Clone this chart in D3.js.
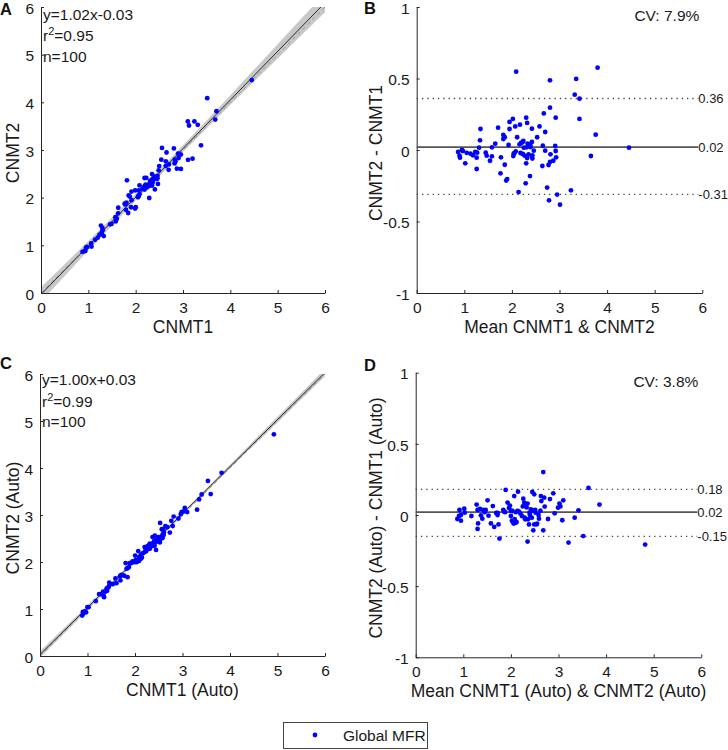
<!DOCTYPE html>
<html><head><meta charset="utf-8">
<script src="https://cdnjs.cloudflare.com/ajax/libs/d3/7.8.5/d3.min.js"></script>
<style>
body{margin:0;background:#fff;}
svg{display:block;font-family:"Liberation Sans",Arial,Helvetica,sans-serif;}
</style></head>
<body><svg id="chart" width="728" height="750"></svg>
<script>
// ---------- DATA ----------
// Panel B: Bland-Altman, manual: mean of CNMT1 & CNMT2, difference CNMT2-CNMT1
const meanB = [0.87,0.90,0.91,0.95,0.97,1.02,1.05,1.13,1.18,1.23,1.26,1.26,1.27,1.31,1.33,1.34,1.45,1.47,1.54,1.58,
  1.58,1.65,1.71,1.76,1.77,1.82,1.82,1.85,1.85,1.88,1.90,1.93,1.95,1.95,2.02,2.03,2.04,2.07,2.09,2.08,
  2.11,2.14,2.16,2.17,2.18,2.22,2.23,2.25,2.27,2.29,2.30,2.31,2.32,2.30,2.32,2.35,2.36,2.38,2.39,2.42,
  2.42,2.43,2.43,2.46,2.53,2.58,2.64,2.65,2.67,2.70,2.70,2.74,2.77,2.78,2.80,2.80,2.80,2.81,2.87,2.91,
  2.92,2.92,2.93,2.95,3.01,3.24,3.32,3.35,3.42,3.42,3.66,3.76,3.80,4.46,2.05,2.19,2.33,2.39,2.42,2.24];
const diffB = [-0.014,-0.04,-0.054,0.00,-0.007,-0.093,-0.02,-0.026,-0.037,-0.014,-0.054,-0.133,-0.019,0.016,0.068,0.147,-0.019,-0.04,-0.075,0.019,
  -0.044,0.044,0.156,-0.163,-0.051,0.105,0.077,0.089,-0.103,-0.214,-0.203,0.035,0.196,0.147,0.217,-0.042,-0.023,0.165,0.548,-0.009,
  0.089,-0.294,0.04,0.177,-0.021,0.054,-0.028,0.016,-0.04,-0.233,0.226,0.019,0.189,-0.093,-0.056,-0.03,0.04,-0.182,0.028,0.149,
  0.056,-0.037,-0.06,-0.005,0.089,0.165,-0.112,0.03,0.256,0.126,-0.005,-0.263,-0.105,-0.352,-0.084,0.487,0.296,-0.03,-0.075,0.028,
  -0.007,0.226,-0.051,-0.312,-0.382,-0.282,0.387,0.497,0.359,0.217,-0.042,0.107,0.576,0.016,-0.025,0.049,0.045,0.021,-0.049,0.063];
// Panel D: Bland-Altman, automatic
const meanD = [0.875,0.91,0.92,0.95,1.02,1.03,1.17,1.28,1.30,1.31,1.30,1.35,1.37,1.40,1.42,1.47,1.51,1.53,1.58,1.62,
  1.65,1.69,1.72,1.74,1.76,1.84,1.86,1.89,1.93,1.96,1.98,2.00,2.02,2.03,2.05,2.07,2.08,2.10,2.14,2.15,
  2.17,2.23,2.26,2.28,2.29,2.31,2.33,2.35,2.36,2.38,2.39,2.42,2.44,2.45,2.47,2.49,2.49,2.51,2.52,2.54,
  2.59,2.63,2.64,2.68,2.68,2.70,2.71,2.78,2.82,2.89,2.92,2.99,3.02,3.10,3.08,3.21,3.34,3.42,3.52,3.63,
  3.86,4.82,2.00,2.06,2.12,2.20,2.25,2.30,2.40,2.46,2.55,2.58,1.45,1.72,1.88,2.10,2.35,2.62,3.04,0.95];
const diffD = [-0.028,-0.007,0.035,-0.04,0.044,0.016,-0.007,0.073,0.035,-0.059,-0.098,0.042,-0.002,-0.026,0.035,0.035,0.103,-0.005,-0.059,0.063,
  -0.084,0.014,0.014,-0.066,-0.166,0.035,0.023,0.176,0.087,0.049,0.066,-0.007,-0.04,0.028,-0.054,0.133,-0.03,-0.054,0.028,0.164,
  0.023,-0.007,0.115,0.087,-0.019,0.07,0.054,-0.187,-0.03,-0.066,0.016,0.04,-0.019,0.162,-0.108,0.145,-0.066,0.035,0.016,-0.066,
  -0.026,0.133,0.098,0.302,-0.108,0.122,0.059,-0.028,0.112,0.152,0.012,0.052,0.08,0.103,-0.037,-0.194,-0.019,0.033,-0.148,0.19,
  0.073,-0.208,0.03,-0.06,-0.05,0.01,0.06,-0.03,0.00,0.03,-0.06,0.00,0.02,0.00,0.02,0.02,0.08,0.03,0.06,0.00];

// Regression fits and agreement statistics printed on the figure
const fitA = {slope:1.02, icpt:-0.03, r2:"0.95", n:100, label:"y=1.02x-0.03"};
const fitC = {slope:1.00, icpt:0.03, r2:"0.99", n:100, label:"y=1.00x+0.03"};
const ciX = [0,1,2,3,4,5,6];
const ciHalfA = [0.15,0.10,0.07,0.07,0.10,0.15,0.20];
const ciHalfC = [0.07,0.05,0.03,0.03,0.04,0.06,0.08];
const limitsB = [0.36,0.02,-0.31];
const limitsD = [0.18,0.02,-0.15];
const cvB = "CV: 7.9%", cvD = "CV: 3.8%";
const scatterTicks = [0,1,2,3,4,5,6];
const baYTicks = [-1,-0.5,0,0.5,1];

// Scatter panels are the same measurement pairs: CNMT1 = mean - diff/2, CNMT2 = mean + diff/2
const ptsB = meanB.map((m,i)=>({x:m,y:diffB[i]}));
const ptsD = meanD.map((m,i)=>({x:m,y:diffD[i]}));
const ptsA = meanB.map((m,i)=>({x:m-diffB[i]/2,y:m+diffB[i]/2}));
const ptsC = meanD.map((m,i)=>({x:m-diffD[i]/2,y:m+diffD[i]/2}));

// ---------- DRAWING ----------
const svg = d3.select("#chart");
const defs = svg.append("defs");
const AX = "#262626";
const TXT = "#1a1a1a";
const fmt = d => String(d);

function panel(id, xr, yr, ydom, yticks, letter, letterPos, xTitle, yTitle, yTitleX){
  const x = d3.scaleLinear().domain([0,6]).range(xr);
  const y = d3.scaleLinear().domain(ydom).range(yr);
  const g = svg.append("g");
  defs.append("clipPath").attr("id","clip"+id).append("rect")
    .attr("x",xr[0]).attr("y",yr[1]).attr("width",xr[1]-xr[0]).attr("height",yr[0]-yr[1]);
  const body = g.append("g").attr("clip-path","url(#clip"+id+")");
  const xa = g.append("g").attr("transform",`translate(0,${yr[0]})`)
    .call(d3.axisBottom(x).tickValues(scatterTicks).tickFormat(fmt).tickSizeInner(-3).tickSizeOuter(0).tickPadding(8));
  const ya = g.append("g").attr("transform",`translate(${xr[0]},0)`)
    .call(d3.axisLeft(y).tickValues(yticks).tickFormat(fmt).tickSizeInner(-3).tickSizeOuter(0).tickPadding(7));
  [xa,ya].forEach(a=>{
    a.attr("font-family",null).attr("font-size",null);
    a.select(".domain").attr("stroke",AX).attr("stroke-width",1);
    a.selectAll(".tick line").attr("stroke",AX);
    a.selectAll("text").attr("font-size",15.5).attr("fill",TXT);
  });
  xa.selectAll("text").attr("dy","0.71em").attr("y",9);
  ya.selectAll("text").attr("dy","0.4em");
  g.append("text").attr("x",(xr[0]+xr[1])/2).attr("y",yr[0]+40).attr("text-anchor","middle")
    .attr("font-size",17.5).attr("fill",TXT).text(xTitle);
  g.append("text").attr("transform",`translate(${yTitleX},${(yr[0]+yr[1])/2+3}) rotate(-90)`)
    .attr("text-anchor","middle").attr("font-size",17.5).attr("fill",TXT).text(yTitle);
  g.append("text").attr("x",letterPos[0]).attr("y",letterPos[1]).attr("font-size",16.5).attr("font-weight","bold")
    .attr("fill","#111").text(letter);
  return {x,y,g,body};
}

function scatterPanel(p, pts, fit, ciHalf, textTop){
  const {x,y,g,body} = p;
  const fy = v => fit.slope*v + fit.icpt;
  const band = d3.area().x(d=>x(d)).y0((d,i)=>y(fy(d)-ciHalf[i])).y1((d,i)=>y(fy(d)+ciHalf[i])).curve(d3.curveMonotoneX);
  body.append("path").datum(ciX).attr("d",band).attr("fill","#c8c8c8");
  body.append("line").attr("x1",x(0)).attr("y1",y(0)).attr("x2",x(6)).attr("y2",y(6))
    .attr("stroke","#999").attr("stroke-width",1).attr("stroke-dasharray","4,3");
  body.append("line").attr("x1",x(0)).attr("y1",y(fy(0))).attr("x2",x(6)).attr("y2",y(fy(6)))
    .attr("stroke","#2a2a2a").attr("stroke-width",1);
  g.append("g").selectAll("circle").data(pts).join("circle")
    .attr("cx",d=>x(d.x)).attr("cy",d=>y(d.y)).attr("r",2.4).attr("fill","#0000ff");
  const tx = x(0)+2;
  g.append("text").attr("x",tx).attr("y",textTop).attr("font-size",15.5).attr("fill",TXT).text(fit.label);
  const r = g.append("text").attr("x",tx).attr("y",textTop+21.5).attr("font-size",15.5).attr("fill",TXT);
  r.append("tspan").text("r");
  r.append("tspan").attr("dy",-6).attr("font-size",11).text("2");
  r.append("tspan").attr("dy",6).text("="+fit.r2);
  g.append("text").attr("x",tx).attr("y",textTop+42).attr("font-size",15.5).attr("fill",TXT).text("n="+fit.n);
}

function baPanel(p, pts, limits, cv, cvY){
  const {x,y,g} = p;
  limits.forEach((v,i)=>{
    g.append("line").attr("x1",x(0)).attr("x2",x(6)).attr("y1",y(v)).attr("y2",y(v))
      .attr("stroke", i===1 ? "#555" : "#444")
      .attr("stroke-width", i===1 ? 1.7 : 1.3)
      .attr("stroke-dasharray", i===1 ? null : "1.3,4");
  });
  g.append("g").selectAll("circle").data(pts).join("circle")
    .attr("cx",d=>x(d.x)).attr("cy",d=>y(d.y)).attr("r",2.4).attr("fill","#0000ff");
  limits.forEach(v=>{
    const t = g.append("text").attr("x",x(6)-4).attr("y",y(v)).attr("dy","0.35em")
      .attr("font-size",13).attr("fill",TXT).text(v.toFixed(2));
    const bb = t.node().getBBox();
    g.insert("rect", () => t.node()).attr("x",bb.x).attr("y",bb.y+2).attr("width",bb.width+2).attr("height",bb.height-4).attr("fill","#fff");
  });
  g.append("text").attr("x",x(6)-3).attr("y",cvY).attr("text-anchor","end").attr("font-size",15.5)
    .attr("fill",TXT).text(cv);
}

const pA = panel("A",[41,325],[293,7],[0,6],scatterTicks,"A",[0,15],"CNMT1","CNMT2",19);
scatterPanel(pA, ptsA, fitA, ciHalfA, 19.5);
const pB = panel("B",[416.7,702.3],[293,7],[-1,1],baYTicks,"B",[364,14],"Mean CNMT1 & CNMT2","CNMT2 - CNMT1",382);
baPanel(pB, ptsB, limitsB, cvB, 21);
const pC = panel("C",[40,325],[656,374],[0,6],scatterTicks,"C",[0,369],"CNMT1 (Auto)","CNMT2 (Auto)",19);
scatterPanel(pC, ptsC, fitC, ciHalfC, 385);
const pD = panel("D",[415.7,701.3],[657.3,372.7],[-1,1],baYTicks,"D",[364,371],"Mean CNMT1 (Auto) & CNMT2 (Auto)","CNMT2 (Auto) - CNMT1 (Auto)",382);
baPanel(pD, ptsD, limitsD, cvD, 387);

// legend
const lg = svg.append("g");
lg.append("rect").attr("x",283.5).attr("y",722.5).attr("width",144).attr("height",26)
  .attr("fill","#fff").attr("stroke","#444").attr("stroke-width",1);
lg.append("circle").attr("cx",315).attr("cy",735).attr("r",2.4).attr("fill","#0000ff");
lg.append("text").attr("x",343).attr("y",741).attr("font-size",15.5).attr("fill",TXT).text("Global MFR");
</script></body></html>
